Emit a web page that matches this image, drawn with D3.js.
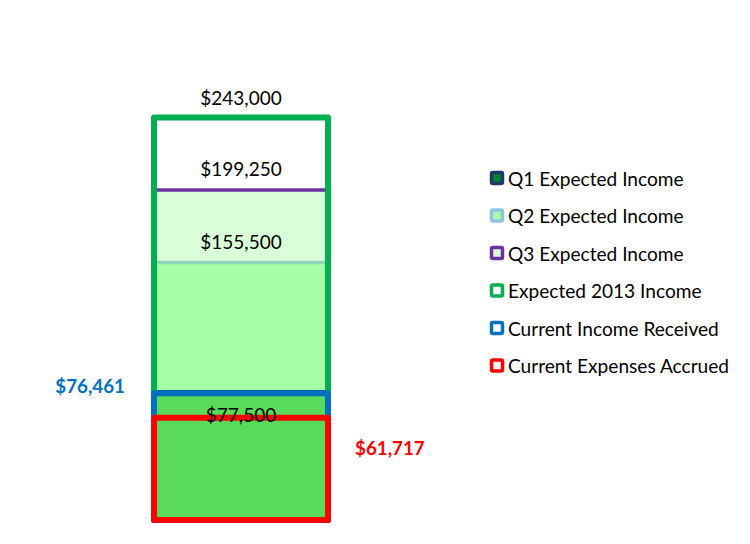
<!DOCTYPE html>
<html>
<head>
<meta charset="utf-8">
<script src="https://cdn.jsdelivr.net/npm/d3@7"></script>
<style>
  html, body { margin: 0; padding: 0; background: #fff; }
  svg { display: block; font-family: Lato, "Open Sans", sans-serif; }
</style>
</head>
<body>
<svg id="chart" width="750" height="544"></svg>
<script>
// ---- data ----
const category = ["2013"];
const stackSeries = ["Q1 Expected Income", "Q2 Expected Income", "Q3 Expected Income"];
const stackValues = [77500, 78000, 43750];          // cumulative: 77,500 / 155,500 / 199,250
const stackLabels = ["$77,500", "$155,500", "$199,250"];
const outlineSeries = ["Expected 2013 Income", "Current Income Received", "Current Expenses Accrued"];
const outlineValues = [243000, 76461, 61717];
const outlineLabels = ["$243,000", "$76,461", "$61,717"];
const legendNames = ["Q1 Expected Income", "Q2 Expected Income", "Q3 Expected Income",
                     "Expected 2013 Income", "Current Income Received", "Current Expenses Accrued"];

// ---- styles ----
const stackFill = ["#59DB59", "#A6FFA6", "#D9FFD9"];
const stackStroke = ["#1F3864", "#8FD6B8", "#7030A0"];
const legendFill = ["#00822E", "#A6FFA6", "#D9FFD9", "#ffffff", "#ffffff", "#ffffff"];
const legendStroke = ["#1F3864", "#8FC3E6", "#7030A0", "#00B050", "#0070C0", "#FF0000"];
const outlineColor = ["#00B050", "#0070C0", "#FF0000"];

const svg = d3.select("#chart");
const baseY = 520, topVal = 250000;
const y = d3.scaleLinear().domain([0, topVal]).range([baseY, baseY - topVal * 402.5 / 243000]);
const x = d3.scaleBand().domain(category).range([154, 328]).padding(0);

// stacked segments
let cum = 0;
const segs = stackValues.map((v, i) => { const s = {i, y0: cum, y1: cum + v}; cum += v; return s; });
const g = svg.append("g");
g.selectAll("rect.seg").data(segs).join("rect")
  .attr("x", x("2013")).attr("width", x.bandwidth())
  .attr("y", d => y(d.y1)).attr("height", d => y(d.y0) - y(d.y1))
  .attr("fill", d => stackFill[d.i]);
g.selectAll("line.segtop").data(segs).join("line")
  .attr("x1", x("2013")).attr("x2", x("2013") + x.bandwidth())
  .attr("y1", d => y(d.y1)).attr("y2", d => y(d.y1))
  .attr("stroke", d => stackStroke[d.i]).attr("stroke-width", 3.5);

// outline bars
g.selectAll("rect.outline").data(outlineValues).join("rect")
  .attr("x", x("2013")).attr("width", x.bandwidth())
  .attr("y", d => y(d)).attr("height", d => baseY - y(d))
  .attr("fill", "none")
  .attr("stroke", (d, i) => outlineColor[i]).attr("stroke-width", 6)
  .attr("stroke-linejoin", "round");

// stacked labels
const labelOffset = [23, -21, -21];
g.selectAll("text.slab").data(segs).join("text")
  .attr("x", x("2013") + x.bandwidth() / 2)
  .attr("y", d => y(d.y1) + labelOffset[d.i])
  .attr("text-anchor", "middle").attr("dominant-baseline", "central")
  .attr("font-size", 19).attr("fill", "#000")
  .text(d => stackLabels[d.i]);

// outline labels
g.append("text").attr("x", x("2013") + x.bandwidth() / 2).attr("y", y(outlineValues[0]) - 20)
  .attr("text-anchor", "middle").attr("dominant-baseline", "central")
  .attr("font-size", 19).attr("fill", "#000").text(outlineLabels[0]);
g.append("text").attr("x", 125).attr("y", y(outlineValues[1]) - 8)
  .attr("text-anchor", "end").attr("dominant-baseline", "central")
  .attr("font-size", 18.8).attr("font-weight", "bold").attr("fill", "#0070C0").text(outlineLabels[1]);
g.append("text").attr("x", 355).attr("y", y(outlineValues[2]) + 30)
  .attr("text-anchor", "start").attr("dominant-baseline", "central")
  .attr("font-size", 18.8).attr("font-weight", "bold").attr("fill", "#FF0000").text(outlineLabels[2]);

// legend
const leg = svg.append("g").attr("transform", "translate(490,178)");
const items = leg.selectAll("g").data(legendNames).join("g")
  .attr("transform", (d, i) => `translate(0,${i * 37.5})`);
items.append("rect").attr("x", 1.5).attr("y", -5.5).attr("width", 11).attr("height", 11)
  .attr("rx", 1.5)
  .attr("fill", (d, i) => legendFill[i])
  .attr("stroke", (d, i) => legendStroke[i]).attr("stroke-width", 3.5);
items.append("text").attr("x", 18).attr("y", 0).attr("dominant-baseline", "central")
  .attr("font-size", 19.1).attr("fill", "#000").text(d => d);
</script>
</body>
</html>
